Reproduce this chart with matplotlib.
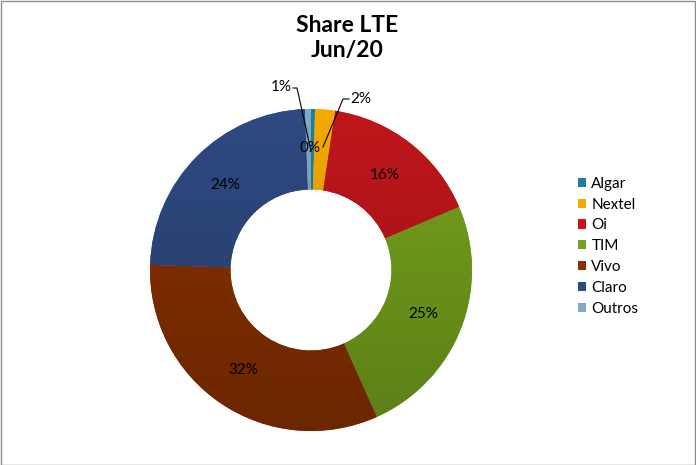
import numpy as np
import matplotlib
matplotlib.use('Agg')
import matplotlib.pyplot as plt
from matplotlib.patches import Patch, Rectangle
from matplotlib.colors import to_rgb

plt.rcParams['font.family'] = ['Lato', 'DejaVu Sans']

# Data
operators = ['Algar', 'Nextel', 'Oi', 'TIM', 'Vivo', 'Claro', 'Outros']
share = [0.4, 2.0, 16.2, 24.7, 32.2, 23.9, 0.6]
pct_labels = ['0%', '2%', '16%', '25%', '32%', '24%', '1%']
colours = ['#1f7f9c', '#f5aa00', '#c0161b', '#76a31d', '#8a3100', '#2f4a82', '#80aac6']

W, H = 696, 465
cx, cy, R = 311, 465 - 270, 161

fig = plt.figure(figsize=(W / 100, H / 100), dpi=100)
ax = fig.add_axes([0, 0, 1, 1])

wedges, _ = ax.pie(share, colors=colours, startangle=90, counterclock=False,
                   center=(cx, cy), radius=R, frame=True,
                   wedgeprops={'width': R * 0.5, 'linewidth': 0})
ax.set_xlim(0, W)
ax.set_ylim(0, H)
ax.axis('off')

# vertical shading like the office-style gradient
grad = np.linspace(1.0, 0.78, 256)[:, None]
for w, c in zip(wedges, colours):
    base = np.array(to_rgb(c))
    img = np.clip(grad[:, :, None] * base[None, None, :] * np.ones((1, 2, 1)), 0, 1)
    im = ax.imshow(img, extent=(cx - R, cx + R, cy - R, cy + R), origin='upper',
                   aspect='auto', zorder=w.get_zorder() + 0.1, interpolation='bilinear')
    im.set_clip_path(w)

fs = 11
# percentage labels on the big slices
for w, lab in zip(wedges, pct_labels):
    ang = np.deg2rad((w.theta1 + w.theta2) / 2)
    if w.theta2 - w.theta1 > 20:
        ax.text(cx + 0.75 * R * np.cos(ang), cy + 0.75 * R * np.sin(ang), lab,
                ha='center', va='center', fontsize=fs, zorder=5)

# small slices with leader lines
ax.text(310, H - 148, pct_labels[0], ha='center', va='center', fontsize=fs, zorder=5)
ax.text(281, H - 87, pct_labels[6], ha='center', va='center', fontsize=fs, zorder=5)
ax.plot([293, 297, 311], [H - 88, H - 88, H - 151], color='black', lw=0.8, zorder=5)
ax.text(361, H - 99, pct_labels[1], ha='center', va='center', fontsize=fs, zorder=5)
ax.plot([349, 343, 323], [H - 99, H - 99, H - 147], color='black', lw=0.8, zorder=5)

ax.text(347, H - 38, 'Share LTE\nJun/20', ha='center', va='center', fontsize=16.5,
        fontweight='bold', linespacing=1.25)

handles = [Patch(facecolor=c, edgecolor='none') for c in colours]
ax.legend(handles, operators, loc='upper left', bbox_to_anchor=(570 / W, 1 - 169 / H),
          frameon=False, fontsize=fs, handlelength=0.55, handleheight=0.55,
          handletextpad=0.35, labelspacing=0.45, borderpad=0)

fig.patches.append(Rectangle((0.5 / W, 0.5 / H), 1 - 1.5 / W, 1 - 1.5 / H,
                             transform=fig.transFigure, fill=False,
                             edgecolor='#8c8c8c', linewidth=1))

fig.savefig('out.png', dpi=100)
